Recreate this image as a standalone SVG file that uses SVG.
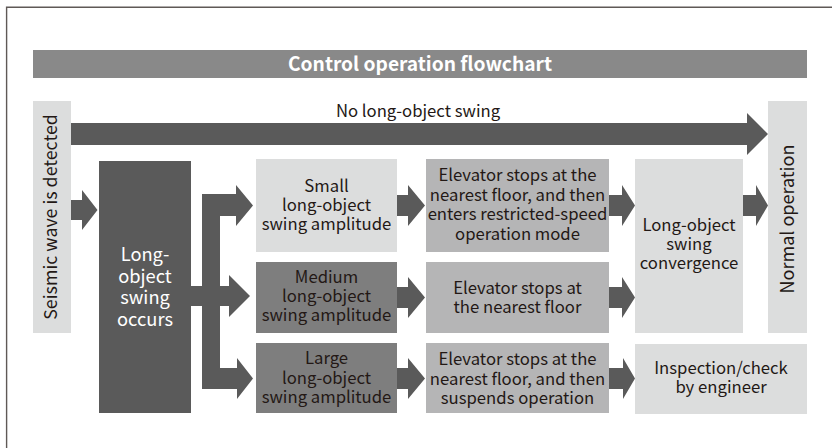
<svg xmlns="http://www.w3.org/2000/svg" width="840" height="448" viewBox="0 0 840 448">
<style>
text{font-family:"Noto Sans CJK JP","Source Sans Pro","Noto Sans",sans-serif;fill:#231815;text-anchor:middle}
.t{font-size:16.7px}
.big{font-size:18.3px}
.wt{fill:#ffffff}
.light{fill:#dcdddd}
.mid{fill:#b5b5b6}
.med{fill:#7e7e7e}
.dark{fill:#5a5a5a}
.arrow{fill:#5a5a5a}
</style>
<rect width="840" height="448" fill="#ffffff"/>
<path d="M6.6,448 V7.2 H832" fill="none" stroke="#5f5956" stroke-width="1.4"/>
<g id="title">
<rect x="33" y="50" width="774" height="28" fill="#898989"/>
<text x="420" y="71" class="wt" style="font-size:19.2px;font-weight:bold">Control operation flowchart</text>
</g>
<g id="connectors">
<path class="arrow" d="M71,123 H747 V113 L768,134 L747,155 V145 H71 Z"/>
<text x="418" y="117" class="t">No long-object swing</text>
<path class="arrow" d="M71,200 H82 V190 L97.5,210 L82,230 V220 H71 Z"/>
<path class="arrow" d="M202,194 H236 V185 L253,205.5 L236,226 V216 H220 V368 H237 V358 L253,378.5 L237,399 V389 H202 Z"/>
<path class="arrow" d="M191,286 H229 V275 L250,296 L229,317 V306 H191 Z"/>
<path class="arrow" d="M397,195 H408 V185 L425,205.5 L408,226 V216 H397 Z"/>
<path class="arrow" d="M397,287 H408 V277 L425,297.5 L408,318 V308 H397 Z"/>
<path class="arrow" d="M397,368 H408 V358 L425,378.5 L408,399 V389 H397 Z"/>
<path class="arrow" d="M609,195 H622 V185 L635,205.5 L622,226 V216 H609 Z"/>
<path class="arrow" d="M609,287 H622 V277 L635,297.5 L622,318 V308 H609 Z"/>
<path class="arrow" d="M609,368 H623 V358 L635,378.5 L623,399 V389 H609 Z"/>
<path class="arrow" d="M743,195 H756 V185 L768,205.5 L756,226 V216 H743 Z"/>
</g>
<g id="seismic">
<rect x="33" y="101" width="38" height="232" class="light"/>
<text transform="translate(57,217) rotate(-90)" style="font-size:17.8px">Seismic wave is detected</text>
</g>
<g id="normal">
<rect x="768" y="101" width="39" height="232" class="light"/>
<text transform="translate(794,219) rotate(-90)" style="font-size:18px">Normal operation</text>
</g>
<g id="occurs">
<rect x="99" y="161" width="92" height="252" class="dark"/>
<text x="145" class="big wt"><tspan x="145" y="261">Long-</tspan><tspan x="145" y="282.5">object</tspan><tspan x="145" y="304">swing</tspan><tspan x="145" y="325.5">occurs</tspan></text>
</g>
<g id="small">
<rect x="256" y="159" width="141" height="93" class="light"/>
<text class="t"><tspan x="326.5" y="192">Small</tspan><tspan x="326.5" y="211">long-object</tspan><tspan x="326.5" y="230">swing amplitude</tspan></text>
</g>
<g id="medium">
<rect x="256" y="262" width="141" height="71" class="med"/>
<text class="t"><tspan x="326.5" y="283">Medium</tspan><tspan x="326.5" y="302">long-object</tspan><tspan x="326.5" y="321">swing amplitude</tspan></text>
</g>
<g id="large">
<rect x="256" y="343" width="141" height="70" class="med"/>
<text class="t"><tspan x="326.5" y="364">Large</tspan><tspan x="326.5" y="383.5">long-object</tspan><tspan x="326.5" y="403">swing amplitude</tspan></text>
</g>
<g id="restricted">
<rect x="426" y="159" width="183" height="93" class="mid"/>
<text class="t"><tspan x="517.5" y="181">Elevator stops at the</tspan><tspan x="517.5" y="200.5">nearest floor, and then</tspan><tspan x="517.5" y="220">enters restricted-speed</tspan><tspan x="517.5" y="239.5">operation mode</tspan></text>
</g>
<g id="stops">
<rect x="426" y="262" width="183" height="71" class="mid"/>
<text class="t"><tspan x="517.5" y="294">Elevator stops at</tspan><tspan x="517.5" y="313">the nearest floor</tspan></text>
</g>
<g id="suspends">
<rect x="426" y="343" width="183" height="70" class="mid"/>
<text class="t"><tspan x="517.5" y="365">Elevator stops at the</tspan><tspan x="517.5" y="384.5">nearest floor, and then</tspan><tspan x="517.5" y="404">suspends operation</tspan></text>
</g>
<g id="convergence">
<rect x="635" y="159" width="108" height="174" class="light"/>
<text class="t"><tspan x="689" y="230.5">Long-object</tspan><tspan x="689" y="250">swing</tspan><tspan x="689" y="269">convergence</tspan></text>
</g>
<g id="inspection">
<rect x="635" y="344" width="172" height="70" class="light"/>
<text class="t"><tspan x="721" y="374">Inspection/check</tspan><tspan x="721" y="393">by engineer</tspan></text>
</g>
</svg>
